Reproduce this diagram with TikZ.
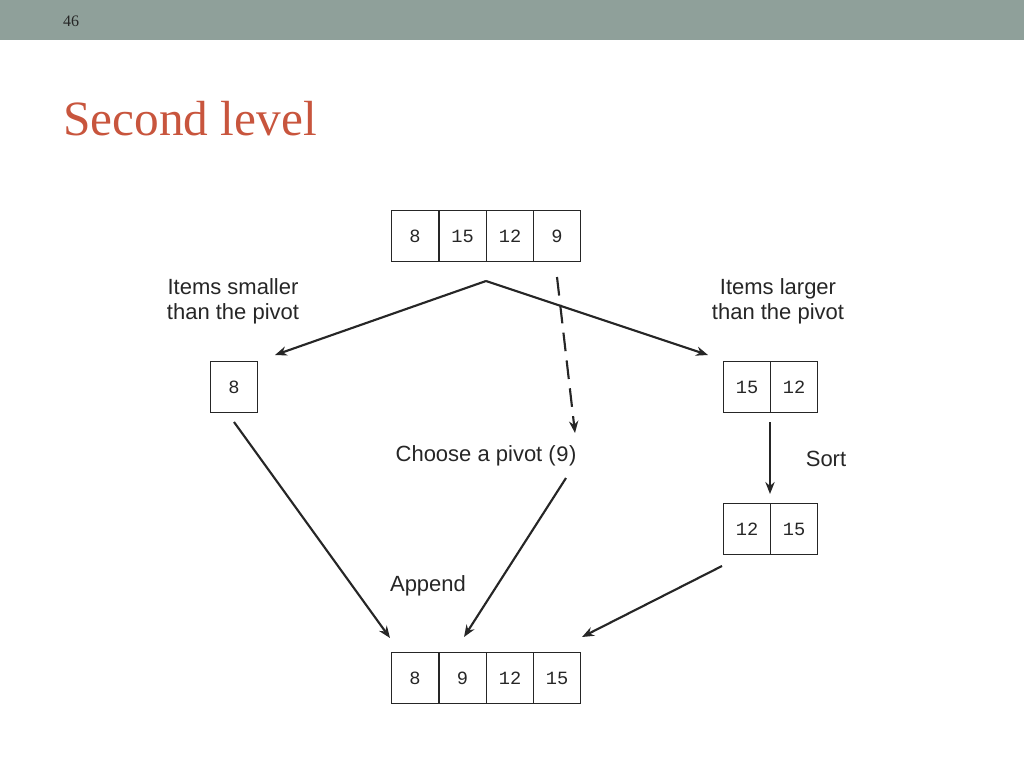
\documentclass[tikz,border=0pt]{standalone}
\usepackage{fontspec}
\setmainfont{Liberation Sans}
\newfontfamily\serifface{Liberation Serif}
\newfontfamily\monoface{Liberation Mono}
\usetikzlibrary{arrows.meta}
\definecolor{barc}{HTML}{8FA09A}
\definecolor{titlec}{HTML}{C8553D}
\definecolor{linec}{HTML}{262626}
\begin{document}
\begin{tikzpicture}[x=0.75pt,y=-0.75pt,
  cell/.style={draw=linec,line width=0.8pt,minimum width=35.25pt,minimum height=38.5pt,inner sep=0pt,font=\monoface\fontsize{14}{16}\selectfont,text=linec,anchor=north west},
  lbl/.style={font=\fontsize{16.5}{19}\selectfont,text=linec,align=center},
  arr/.style={draw=linec,line width=1.6pt,-{Stealth[length=9pt,width=7pt]}}]
\useasboundingbox (0,0) rectangle (1024,768);
\fill[barc] (0,0) rectangle (1024,40);
\node[font=\serifface\fontsize{12}{14}\selectfont,text=linec] (pg) at (71,21) {46};
\node[font=\serifface\fontsize{37}{40}\selectfont,text=titlec,anchor=base west,inner sep=0pt] (title) at (63,135) {Second level};
% top row
\node[cell] (t1) at (391,210) {8};
\node[cell] (t2) at (438.5,210) {15};
\node[cell] (t3) at (486,210) {12};
\node[cell] (t4) at (533,210) {9};
\node[cell] (l1) at (210,361) {8};
\node[cell] (r1) at (723,361) {15};
\node[cell] (r2) at (770,361) {12};
\node[cell] (s1) at (723,503) {12};
\node[cell] (s2) at (770,503) {15};
\node[cell] (b1) at (391,652) {8};
\node[cell] (b2) at (438.5,652) {9};
\node[cell] (b3) at (486,652) {12};
\node[cell] (b4) at (533,652) {15};
% labels
\node[lbl] (ls) at (233,301) {Items smaller\\than the pivot};
\node[lbl] (ll) at (778,301) {Items larger\\than the pivot};
\node[lbl] (cp) at (486,456) {Choose a pivot ({\monoface 9})};
\node[lbl] (so) at (826,459) {Sort};
\node[lbl] (ap) at (428,586) {Append};
% coordinates
\coordinate (split) at (486,281);
\coordinate (lend) at (275,355);
\coordinate (rend) at (708,355);
\coordinate (ds) at (557,277);
\coordinate (de) at (575,433);
\coordinate (a1s) at (234,422);
\coordinate (a1e) at (390,638);
\coordinate (a2s) at (566,478);
\coordinate (a2e) at (464,637);
\coordinate (a3s) at (722,566);
\coordinate (a3e) at (582,637);
\coordinate (sos) at (770,422);
\coordinate (soe) at (770,494);
\draw[arr] (split) -- (lend);
\draw[arr] (split) -- (rend);
\draw[arr,dash pattern=on 14pt off 7pt] (ds) -- (de);
\draw[arr] (a1s) -- (a1e);
\draw[arr] (a2s) -- (a2e);
\draw[arr] (a3s) -- (a3e);
\draw[arr] (sos) -- (soe);
\end{tikzpicture}
\end{document}
